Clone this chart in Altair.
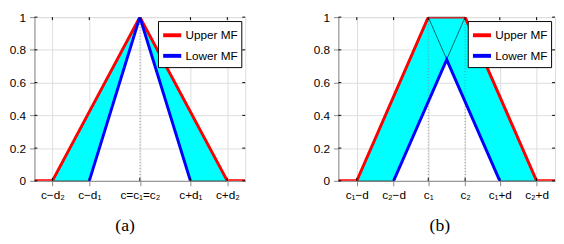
import altair as alt
import pandas as pd

# ---------------- data ----------------
# panel (a)
a_ticks = [0.85, 2.6, 5.0, 7.4, 9.15]
a_tick_labels = ["c−d₂", "c−d₁", "c=c₁=c₂", "c+d₁", "c+d₂"]
a_upper_x = [0.0, 0.85, 5.0, 9.15, 10.0]
a_upper_y = [0.0, 0.0, 1.0, 0.0, 0.0]
a_lower_x = [2.6, 5.0, 7.4]
a_lower_y = [0.0, 1.0, 0.0]
a_fou_x = [0.85, 2.6, 5.0, 7.4, 9.15]
a_fou_hi = [0.0, 0.42, 1.0, 0.42, 0.0]
a_fou_lo = [0.0, 0.0, 1.0, 0.0, 0.0]
a_centres = [5.0]
a_tri_x = []
a_tri_y = []
a_tri_id = []

# panel (b)
b_ticks = [0.85, 2.55, 4.15, 5.85, 7.45, 9.15]
b_tick_labels = ["c₁−d", "c₂−d", "c₁", "c₂", "c₁+d", "c₂+d"]
b_upper_x = [0.0, 0.85, 4.15, 5.85, 9.15, 10.0]
b_upper_y = [0.0, 0.0, 1.0, 1.0, 0.0, 0.0]
b_lower_x = [2.55, 5.0, 7.45]
b_lower_y = [0.0, 0.74, 0.0]
b_fou_x = [0.85, 2.55, 4.15, 5.0, 5.85, 7.45, 9.15]
b_fou_hi = [0.0, 0.52, 1.0, 1.0, 1.0, 0.52, 0.0]
b_fou_lo = [0.0, 0.0, 0.48, 0.74, 0.48, 0.0, 0.0]
b_centres = [4.15, 5.85]
b_tri_x = [0.85, 4.15, 7.45, 2.55, 5.85, 9.15]
b_tri_y = [0.0, 1.0, 0.0, 0.0, 1.0, 0.0]
b_tri_id = [1, 1, 1, 2, 2, 2]

y_ticks = [0, 0.2, 0.4, 0.6, 0.8, 1]
series_names = ["Upper MF", "Lower MF"]
series_colors = ["#ff0000", "#0000ff"]

H = 167
FONT = "Liberation Sans"
FS = 12


def label_expr(vals, labels):
    expr = "''"
    for v, l in reversed(list(zip(vals, labels))):
        expr = f"abs(datum.value - {v}) < 1e-6 ? '{l}' : ({expr})"
    return expr


def panel(ticks, tick_labels, ux, uy, lx, ly, fx, fhi, flo, centres,
          tx, ty, tid, caption, W, cap_dx):
    xs = alt.Scale(domain=[0, 10], nice=False, zero=False)
    ys = alt.Scale(domain=[0, 1], nice=False, zero=False)
    xaxis = alt.Axis(values=ticks, labelExpr=label_expr(ticks, tick_labels),
                     title=None, labelOverlap=False, labelFlush=False,
                     labelPadding=4, labelFontSize=FS, labelFont=FONT)
    yaxis = alt.Axis(values=y_ticks, format="~g", title=None,
                     labelOverlap=False, labelFlush=False, labelBound=False,
                     labelPadding=4, labelFontSize=FS, labelFont=FONT)

    def X(f):
        return alt.X(f, scale=xs, axis=xaxis)

    def Y(f):
        return alt.Y(f, scale=ys, axis=yaxis)

    fou = pd.DataFrame({"x": fx, "hi": fhi, "lo": flo})
    area = alt.Chart(fou).mark_area(
        color="#00ffff", stroke="black", strokeWidth=0.5, opacity=1
    ).encode(x=X("x:Q"), y=Y("hi:Q"), y2="lo:Q")
    layers = [area]

    if tx:
        tri = pd.DataFrame({"x": tx, "y": ty, "id": tid,
                            "i": list(range(len(tx)))})
        layers.append(
            alt.Chart(tri).mark_line(color="black", strokeWidth=0.6).encode(
                x=X("x:Q"), y=Y("y:Q"), detail="id:N", order="i:Q")
        )

    cdf = pd.DataFrame({"c": centres, "lo": [0] * len(centres),
                        "hi": [1] * len(centres)})
    layers.append(
        alt.Chart(cdf).mark_rule(color="#777777", strokeWidth=0.8,
                                 strokeDash=[1, 2]).encode(
            x=X("c:Q"), y=Y("lo:Q"), y2="hi:Q")
    )

    lines = pd.DataFrame({
        "x": ux + lx,
        "y": uy + ly,
        "s": [series_names[0]] * len(ux) + [series_names[1]] * len(lx),
        "i": list(range(len(ux) + len(lx))),
    })
    layers.append(
        alt.Chart(lines).mark_line(strokeWidth=3, clip=True).encode(
            x=X("x:Q"), y=Y("y:Q"),
            color=alt.Color("s:N", scale=alt.Scale(domain=series_names,
                                                   range=series_colors),
                            legend=alt.Legend(
                                orient="top-right", title=None,
                                symbolType="stroke", symbolStrokeWidth=4,
                                symbolSize=340, strokeColor="black",
                                fillColor="white", padding=3, offset=4,
                                rowPadding=1, labelFontSize=FS,
                                labelFont=FONT, labelColor="black",
                                labelOffset=2)),
            order="i:Q")
    )

    # inward ticks (matlab style)
    ydf = pd.DataFrame({"v": y_ticks})
    xdf = pd.DataFrame({"v": ticks})
    layers.append(alt.Chart(ydf).mark_rule(color="black").encode(
        y=Y("v:Q"), x=alt.value(0), x2=alt.value(3)))
    layers.append(alt.Chart(ydf).mark_rule(color="black").encode(
        y=Y("v:Q"), x=alt.value(W - 3), x2=alt.value(W)))
    layers.append(alt.Chart(xdf).mark_rule(color="black").encode(
        x=X("v:Q"), y=alt.value(H), y2=alt.value(H - 3)))
    layers.append(alt.Chart(xdf).mark_rule(color="black").encode(
        x=X("v:Q"), y=alt.value(0), y2=alt.value(3)))

    return alt.layer(*layers).properties(
        width=W, height=H,
        title=alt.TitleParams(caption, orient="bottom", font="Liberation Serif",
                              fontSize=18, fontWeight="normal", color="black",
                              anchor="middle", dx=cap_dx, offset=17),
    )


pa = panel(a_ticks, a_tick_labels, a_upper_x, a_upper_y, a_lower_x, a_lower_y,
           a_fou_x, a_fou_hi, a_fou_lo, a_centres, a_tri_x, a_tri_y, a_tri_id,
           "(a)", 215, -15)
pb = panel(b_ticks, b_tick_labels, b_upper_x, b_upper_y, b_lower_x, b_lower_y,
           b_fou_x, b_fou_hi, b_fou_lo, b_centres, b_tri_x, b_tri_y, b_tri_id,
           "(b)", 221, -7)

chart = alt.hconcat(pa, pb, spacing=67).resolve_scale(
    color="independent").resolve_legend(color="independent").properties(
    padding={"left": 0, "top": 0, "right": 0, "bottom": 0}
).configure_view(stroke="black", strokeWidth=1).configure_axis(
    domainColor="black", ticks=False, grid=False, labelColor="black",
    domainWidth=1, labelOverlap=False
).configure(background="white")

chart.save("out.html", embed_options={"renderer": "svg", "actions": False})
